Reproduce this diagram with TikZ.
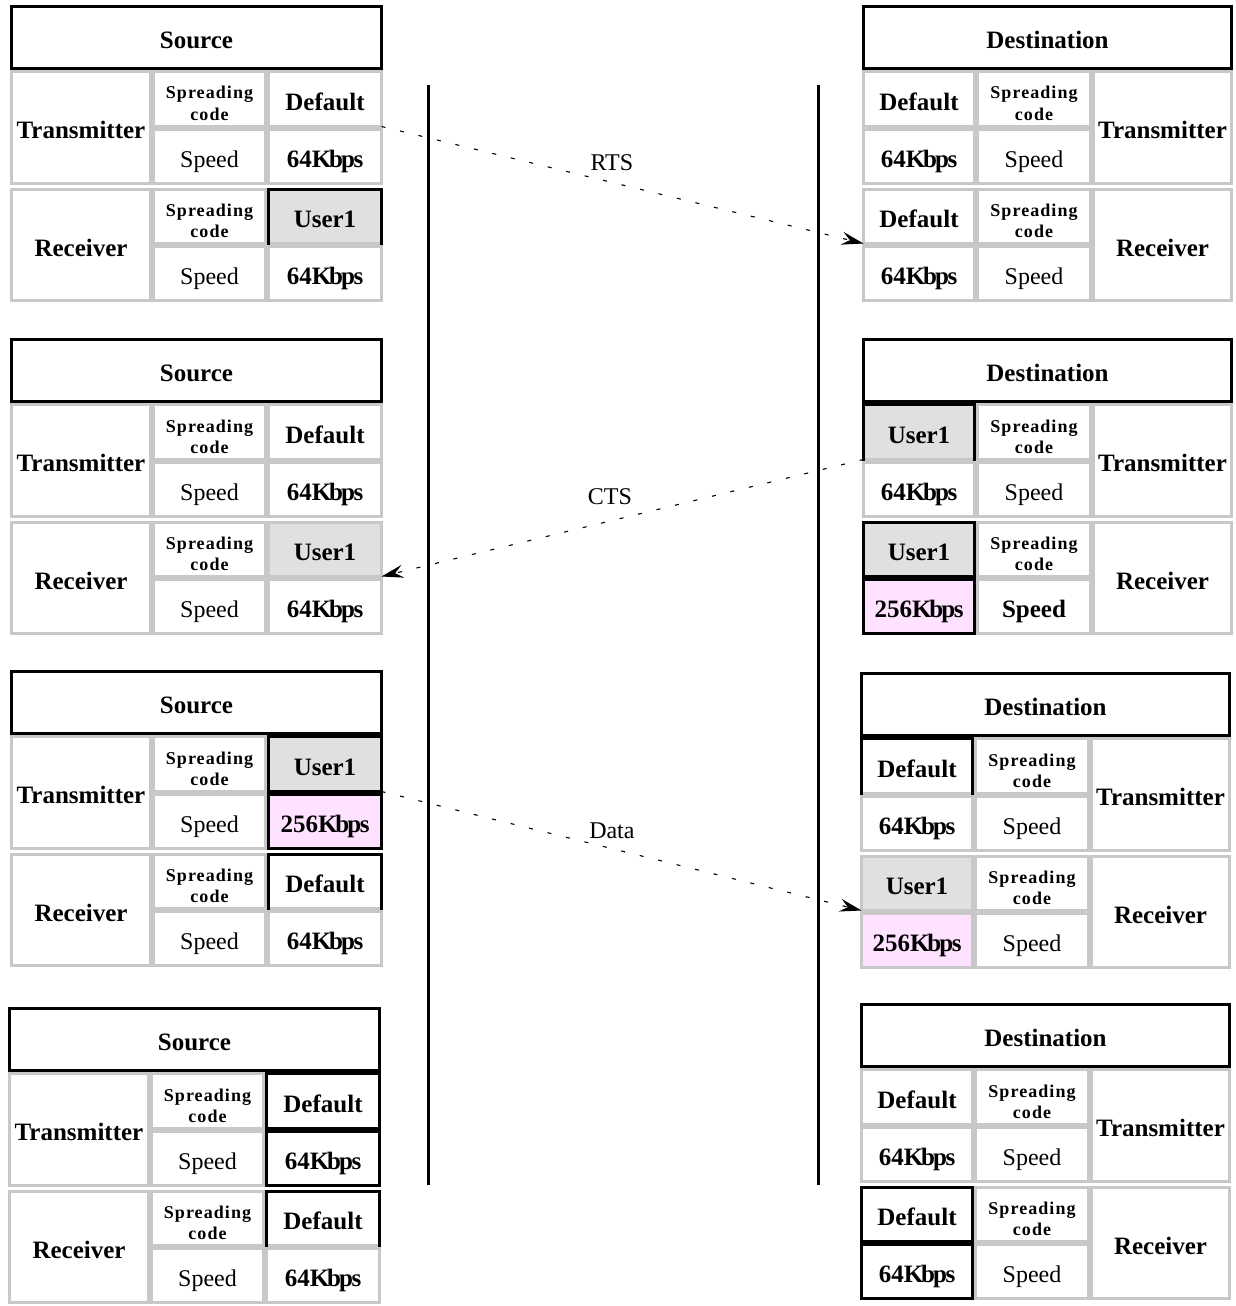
\documentclass[tikz,border=0pt]{standalone}
\usepackage{fontspec}
\setmainfont{Liberation Serif}
\newfontfamily\spreadfont[LetterSpace=6]{Liberation Serif}
\usetikzlibrary{arrows.meta}

\definecolor{cellgray}{RGB}{200,200,200}
\definecolor{selgray}{RGB}{224,224,224}
\definecolor{selpink}{RGB}{255,226,255}

\tikzset{
  cellbox/.style={draw=cellgray, line width=2.6pt, fill=white, inner sep=0pt,
    outer sep=0pt, align=center},
  headbox/.style={draw=black, line width=3pt, fill=white, inner sep=0pt,
    outer sep=0pt, font=\fontsize{25}{28}\selectfont\bfseries,
    text height=27pt, text depth=5pt},
  btxt/.style={font=\fontsize{25}{28}\selectfont\bfseries, text height=27pt, text depth=5pt},
  rtxt/.style={font=\fontsize{24}{28}\selectfont, text height=27pt, text depth=5pt},
  stxt/.style={font=\spreadfont\bfseries\fontsize{18}{21}\selectfont,
    text height=20pt, text depth=20pt},
  usr/.style={btxt, fill=selgray},
  fast/.style={btxt, fill=selpink},
  hlline/.style={draw=black, line width=3pt, line cap=rect},
  lifeline/.style={draw=black, line width=3pt},
  msg/.style={draw=black, line width=1.1pt, dash pattern=on 4pt off 15pt,
    -{Stealth[length=22pt, width=13pt, inset=8pt]}},
  lbl/.style={font=\fontsize{24}{28}\selectfont, inner sep=0pt}
}

% two-line label, first baseline on top
\newcommand\spcode{\begin{tabular}[t]{@{}c@{}}Spreading\\code\end{tabular}}
% rate unit with the tight letter spacing of the tables
\newcommand\kbps{K\kern-2pt b\kern-2pt p\kern-1.5pt s}

% one table cell: name, left, top, width, height, style, text
\newcommand\tcell[7]{%
  \node[cellbox,#6,minimum width=#4pt-3pt,minimum height=#5pt-3pt,anchor=north west]
    (#1) at ({#2+1.5},{#3+1.5}) {#7};}

% source table: prefix, left, top
\newcommand\lefttab[3]{%
  \def\tabL{#2}\def\tabT{#3}%
  \node[headbox,minimum width=370pt,minimum height=62pt,anchor=north west]
    (#1-head) at ({#2+1.5},{#3+1.5}) {Source};
  \tcell{#1-tx}{#2}{#3+65}{142}{115}{btxt}{Transmitter}
  \tcell{#1-rx}{#2}{#3+183}{142}{114}{btxt}{Receiver}
  \tcell{#1-l1}{#2+142}{#3+65}{115}{58}{stxt}{\spcode}
  \tcell{#1-l2}{#2+142}{#3+123}{115}{57}{rtxt}{Speed}
  \tcell{#1-l3}{#2+142}{#3+183}{115}{57}{stxt}{\spcode}
  \tcell{#1-l4}{#2+142}{#3+240}{115}{57}{rtxt}{Speed}}

% destination table: prefix, left, top, style of the lower speed label
\newcommand\righttab[4]{%
  \def\tabL{#2}\def\tabT{#3}%
  \node[headbox,minimum width=368pt,minimum height=62pt,anchor=north west]
    (#1-head) at ({#2+1.5},{#3+1.5}) {Destination};
  \tcell{#1-l1}{#2+114}{#3+65}{116}{58}{stxt}{\spcode}
  \tcell{#1-l2}{#2+114}{#3+123}{116}{57}{rtxt}{Speed}
  \tcell{#1-l3}{#2+114}{#3+183}{116}{57}{stxt}{\spcode}
  \tcell{#1-l4}{#2+114}{#3+240}{116}{57}{#4}{Speed}
  \tcell{#1-tx}{#2+230}{#3+65}{141}{115}{btxt}{Transmitter}
  \tcell{#1-rx}{#2+230}{#3+183}{141}{114}{btxt}{Receiver}}

% value cells: name, row offset, height, style, text
\newcommand\lval[5]{\tcell{#1}{\tabL+257}{\tabT+#2}{116}{#3}{#4}{#5}}
\newcommand\rval[5]{\tcell{#1}{\tabL}{\tabT+#2}{114}{#3}{#4}{#5}}

% black outlines of changed cells
\newcommand\boxall[1]{\draw[hlline] (#1.south west) rectangle (#1.north east);}
\newcommand\boxopen[1]{\draw[hlline] (#1.south west) -- (#1.north west) -- (#1.north east) -- (#1.south east);}

\begin{document}
\begin{tikzpicture}[x=1pt,y=-1pt]
\useasboundingbox (0,0) rectangle (1235,1306);

% lifelines
\coordinate (srcTop) at (428,85);
\coordinate (srcBot) at (428,1185);
\coordinate (dstTop) at (818,85);
\coordinate (dstBot) at (818,1185);
\draw[lifeline] (srcTop) -- (srcBot);
\draw[lifeline] (dstTop) -- (dstBot);

% ---- source side ----
\lefttab{s1}{10}{5}
\lval{s1-v1}{65}{58}{btxt}{Default}
\lval{s1-v2}{123}{57}{btxt}{64\kbps}
\lval{s1-v3}{183}{57}{usr}{User1}
\lval{s1-v4}{240}{57}{btxt}{64\kbps}
\boxopen{s1-v3}

\lefttab{s2}{10}{338}
\lval{s2-v1}{65}{58}{btxt}{Default}
\lval{s2-v2}{123}{57}{btxt}{64\kbps}
\lval{s2-v3}{183}{57}{usr}{User1}
\lval{s2-v4}{240}{57}{btxt}{64\kbps}

\lefttab{s3}{10}{670}
\lval{s3-v1}{65}{58}{usr}{User1}
\lval{s3-v2}{123}{57}{fast}{256\kbps}
\lval{s3-v3}{183}{57}{btxt}{Default}
\lval{s3-v4}{240}{57}{btxt}{64\kbps}
\boxall{s3-v1}
\boxall{s3-v2}
\boxopen{s3-v3}

\lefttab{s4}{8}{1007}
\lval{s4-v1}{65}{58}{btxt}{Default}
\lval{s4-v2}{123}{57}{btxt}{64\kbps}
\lval{s4-v3}{183}{57}{btxt}{Default}
\lval{s4-v4}{240}{57}{btxt}{64\kbps}
\boxall{s4-v1}
\boxall{s4-v2}
\boxopen{s4-v3}

% ---- destination side ----
\righttab{d1}{862}{5}{rtxt}
\rval{d1-v1}{65}{58}{btxt}{Default}
\rval{d1-v2}{123}{57}{btxt}{64\kbps}
\rval{d1-v3}{183}{57}{btxt}{Default}
\rval{d1-v4}{240}{57}{btxt}{64\kbps}

\righttab{d2}{862}{338}{btxt}
\rval{d2-v1}{65}{58}{usr}{User1}
\rval{d2-v2}{123}{57}{btxt}{64\kbps}
\rval{d2-v3}{183}{57}{usr}{User1}
\rval{d2-v4}{240}{57}{fast}{256\kbps}
\boxopen{d2-v1}
\boxall{d2-v3}
\boxall{d2-v4}

\righttab{d3}{860}{672}{rtxt}
\rval{d3-v1}{65}{58}{btxt}{Default}
\rval{d3-v2}{123}{57}{btxt}{64\kbps}
\rval{d3-v3}{183}{57}{usr}{User1}
\rval{d3-v4}{240}{57}{fast}{256\kbps}
\boxopen{d3-v1}

\righttab{d4}{860}{1003}{rtxt}
\rval{d4-v1}{65}{58}{btxt}{Default}
\rval{d4-v2}{123}{57}{btxt}{64\kbps}
\rval{d4-v3}{183}{57}{btxt}{Default}
\rval{d4-v4}{240}{57}{btxt}{64\kbps}
\boxall{d4-v3}
\boxall{d4-v4}

% ---- messages ----
\draw[msg] (s1-v1.south east) -- node[lbl,pos=.478,yshift=20pt] (rts) {RTS} (d1-v3.south west);
\draw[msg] (d2-v1.south west) -- node[lbl,pos=.526,yshift=24pt] (cts) {CTS} (s2-v3.south east);
\draw[msg] (s3-v1.south east) -- node[lbl,pos=.48,yshift=18pt] (data) {Data} (d3-v3.south west);
\end{tikzpicture}
\end{document}
